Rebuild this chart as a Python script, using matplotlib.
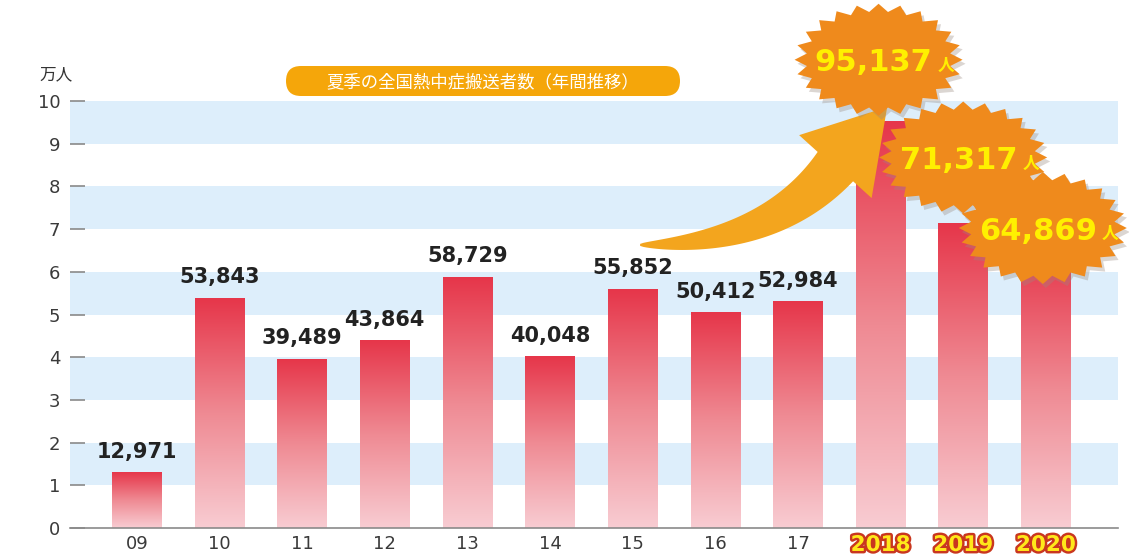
import numpy as np
import matplotlib.pyplot as plt
import matplotlib.patheffects as pe
from matplotlib.colors import LinearSegmentedColormap
from matplotlib.patches import Polygon, FancyBboxPatch
from matplotlib.transforms import ScaledTranslation, IdentityTransform

# ====== DATA ======
years = ["09", "10", "11", "12", "13", "14", "15", "16", "17", "2018", "2019", "2020"]
counts = [12971, 53843, 39489, 43864, 58729, 40048, 55852, 50412, 52984, 95137, 71317, 64869]
highlight = ["2018", "2019", "2020"]
title_text = "夏季の全国熱中症搬送者数（年間推移）"
unit_text = "万人"

values = np.array(counts) / 10000
xs = np.arange(len(years))

cjk = ["Noto Sans CJK JP", "DejaVu Sans"]
XLIM = (-0.81, 11.87)
YLIM = (0, 10)

# ====== FIGURE ======
fig = plt.figure(figsize=(11.29, 5.57), dpi=100)
ax = fig.add_axes([0.062, 0.052, 0.928, 0.7667])
ax.set_xlim(*XLIM)
ax.set_ylim(*YLIM)

# horizontal bands
for lo in range(1, 10, 2):
    ax.axhspan(lo, lo + 1, color="#ddeefb", zorder=0, lw=0)

# gradient bars
cmap = LinearSegmentedColormap.from_list("bar", ["#f8ccd2", "#ef8a93", "#e6364a"])
grad = np.linspace(0, 1, 256).reshape(-1, 1)
w = 0.6
for x, v in zip(xs, values):
    ax.imshow(grad, extent=[x - w / 2, x + w / 2, 0, v], origin="lower",
              cmap=cmap, aspect="auto", zorder=2)
ax.set_xlim(*XLIM)
ax.set_ylim(*YLIM)

# value labels for normal years
for x, v, c, y in zip(xs, values, counts, years):
    if y in highlight:
        continue
    ax.annotate(f"{c:,}", (x, v), xytext=(0, 8), textcoords="offset points",
                ha="center", va="bottom", fontsize=15, fontweight="bold",
                color="#222222", zorder=5)

# axes styling
for s in ["left", "right", "top"]:
    ax.spines[s].set_visible(False)
ax.spines["bottom"].set_color("#8a8a8a")
ax.spines["bottom"].set_linewidth(1.2)
ax.set_yticks(range(0, 11))
ax.tick_params(axis="y", direction="in", length=11, color="#8a8a8a", width=1.2,
               labelsize=13, labelcolor="#3a3a3a", pad=7)
ax.set_xticks(xs)
ax.set_xticklabels(years)
ax.tick_params(axis="x", length=0, labelsize=13, labelcolor="#3a3a3a", pad=5)
for lab in ax.get_xticklabels():
    if lab.get_text() in highlight:
        lab.set_fontsize(15.5)
        lab.set_fontweight("bold")
        lab.set_color("#ffe81a")
        lab.set_path_effects([pe.withStroke(linewidth=3.5, foreground="#c9371f")])

fig.text(0.035, 0.865, unit_text, fontsize=12, family=cjk, color="#333333",
         ha="left", va="center")

# title pill (drawn in pixel units)
pill = FancyBboxPatch((286, 557 - 96), 394, 30, boxstyle="round,pad=0,rounding_size=15",
                      transform=IdentityTransform(), fc="#f5a60a", ec="none", zorder=3)
fig.patches.append(pill)
fig.text(0.428, 0.853, title_text, fontsize=12.5, family=cjk, color="white",
         ha="center", va="center")

# ====== CURVED ARROW ======
fig.canvas.draw()
to_disp = ax.transData.transform
tail = to_disp((6.09, 6.63))
tip = to_disp((9.08, 9.86))
d = np.array([0.66, 0.76])
d = d / np.linalg.norm(d)
nrm = np.array([-d[1], d[0]])
base = tip - d * 79
ctrl = base - d * 99
ctrl[1] = tail[1]
ts = np.linspace(0, 1, 80)
pts = ((1 - ts) ** 2)[:, None] * tail + (2 * (1 - ts) * ts)[:, None] * ctrl + (ts ** 2)[:, None] * base
der = (2 * (1 - ts))[:, None] * (ctrl - tail) + (2 * ts)[:, None] * (base - ctrl)
der = der / np.linalg.norm(der, axis=1)[:, None]
nn = np.column_stack([-der[:, 1], der[:, 0]])
half = 1 + 22 * ts ** 0.7
left = pts + nn * half[:, None]
right = pts - nn * half[:, None]
head = [base + nrm * 48, tip, base - nrm * 48]
poly = np.vstack([left, head, right[::-1]])
arrow = Polygon(poly, closed=True, transform=IdentityTransform(),
                fc="#f3a51e", ec="none", zorder=4, clip_on=False)
ax.add_artist(arrow)

# ====== STARBURST LABELS ======
burst_offsets = [(-2, 62), (0, 66), (-3, 23)]


def starburst(rx, ry, n=24, depth=0.14):
    ang = np.linspace(0, 2 * np.pi, 2 * n, endpoint=False)
    r = np.where(np.arange(2 * n) % 2 == 0, 1.0, 1 - depth)
    return np.column_stack([rx * r * np.cos(ang), ry * r * np.sin(ang)])


star = starburst(0.84, 0.56)
px2pt = 0.72
for (dx, dy), y in zip(burst_offsets, highlight):
    i = years.index(y)
    x, v, c = xs[i], values[i], counts[i]
    anchor = ScaledTranslation(x, v, ax.transData)
    shadow = fig.dpi_scale_trans + ScaledTranslation((dx + 3) / 100, (dy - 4) / 100, fig.dpi_scale_trans) + anchor
    shape = fig.dpi_scale_trans + ScaledTranslation(dx / 100, dy / 100, fig.dpi_scale_trans) + anchor
    ax.add_artist(Polygon(star, closed=True, transform=shadow, fc="#9a8a80", ec="none",
                          alpha=0.35, zorder=6, clip_on=False))
    ax.add_artist(Polygon(star, closed=True, transform=shape, fc="#ef8a1c", ec="none",
                          zorder=7, clip_on=False))
    ax.annotate(f"{c:,}", (x, v), xytext=((dx + 54) * px2pt, (dy - 3) * px2pt),
                textcoords="offset points", ha="right", va="center", fontsize=22,
                fontweight="bold", color="#fff000", zorder=8, annotation_clip=False)
    ax.annotate("人", (x, v), xytext=((dx + 59) * px2pt, (dy - 6) * px2pt),
                textcoords="offset points", ha="left", va="center", fontsize=12,
                fontweight="bold", color="#fff000", family=cjk, zorder=8,
                annotation_clip=False)

ax.set_xlim(*XLIM)
ax.set_ylim(*YLIM)
fig.savefig("out.png", dpi=100)
